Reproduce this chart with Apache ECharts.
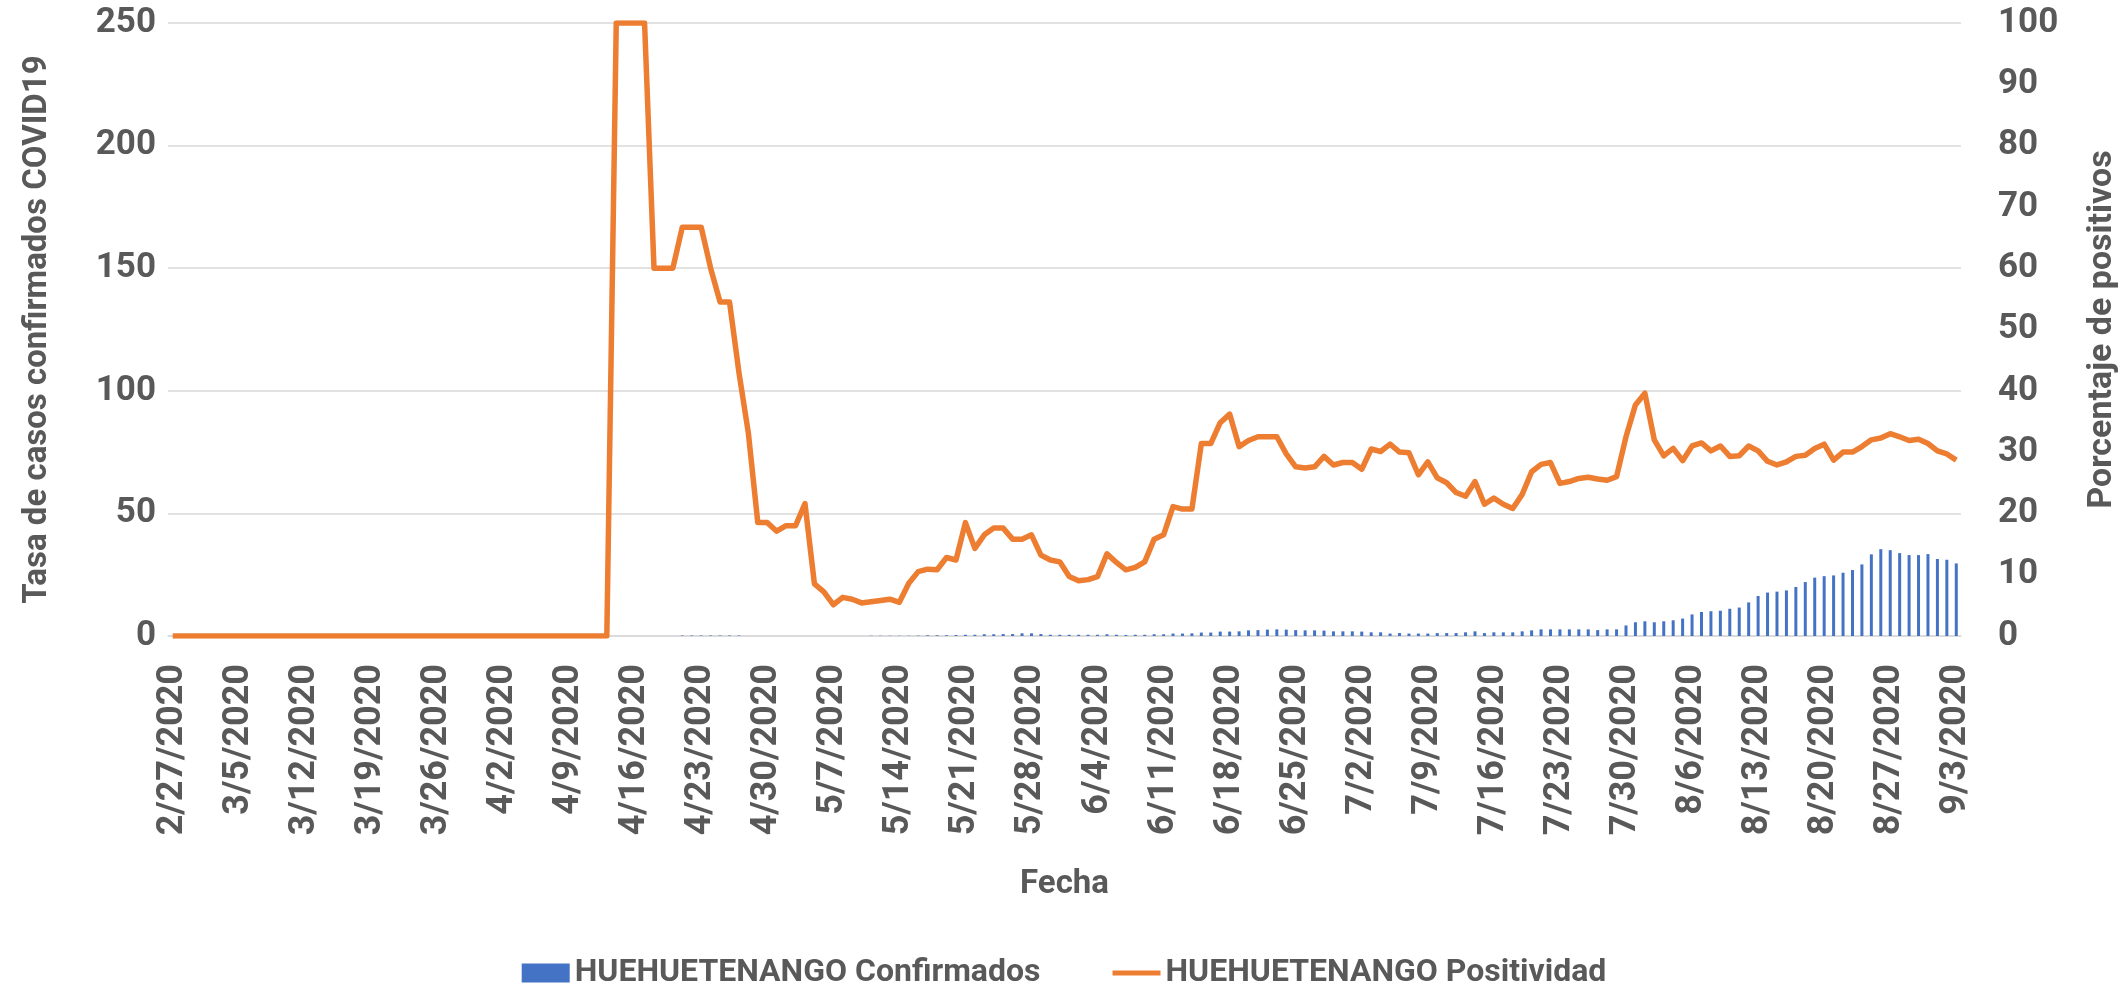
<!DOCTYPE html>
<html>
<head>
<meta charset="utf-8">
<script src="https://cdn.jsdelivr.net/npm/echarts@6/dist/echarts.min.js"></script>
<style>
  html, body { margin: 0; padding: 0; background: #fff; }
  #main { width: 2128px; height: 990px; }
</style>
</head>
<body>
<div id="main"></div>
<script>
// daily categories 2/27/2020 .. 9/3/2020
const startDay = new Date(2020, 1, 27);
const fechas = [];
for (let i = 0; i < 190; i++) {
  const d = new Date(startDay.getFullYear(), startDay.getMonth(), startDay.getDate() + i);
  fechas.push((d.getMonth() + 1) + '/' + d.getDate() + '/' + d.getFullYear());
}

// tasa de casos confirmados (left axis)
const confirmados = [
  0, 0, 0, 0, 0, 0, 0, 0, 0, 0, 0, 0, 0, 0, 0, 0, 0, 0, 0, 0,
  0, 0, 0, 0, 0, 0, 0, 0, 0, 0, 0, 0, 0, 0, 0, 0, 0, 0, 0, 0,
  0, 0, 0, 0, 0, 0, 0, 0, 0, 0, 0, 0, 0, 0,
  0.2, 0.2, 0.2, 0.2, 0.2, 0.2, 0.2,
  0, 0, 0, 0, 0, 0, 0, 0, 0, 0, 0, 0, 0,
  0.1, 0.1, 0.1, 0.1,
  0.1, 0.15, 0.3, 0.3, 0.3, 0.4, 0.5, 0.5, 0.7, 0.7, 0.8, 0.8,
  1.1, 1.1, 0.8, 0.5, 0.5, 0.5, 0.5, 0.5, 0.5, 0.7,
  0.5, 0.4, 0.5, 0.5, 0.7, 0.7, 1.0, 1.0, 1.1, 1.4,
  1.4, 1.8, 1.8, 1.9, 2.3, 2.4, 2.6, 2.7, 2.6, 2.4,
  2.3, 2.3, 2.2, 1.9, 1.9, 1.9, 1.8, 1.5, 1.5, 1.0,
  1.2, 1.0, 1.0, 1.0, 1.2, 1.2, 1.2, 1.5, 1.9, 1.2,
  1.5, 1.5, 1.5, 1.9, 2.3, 2.7, 2.7, 2.7, 2.7, 2.7,
  2.7, 2.4, 2.7, 2.7, 4.3, 5.6, 6.0, 5.6, 6.0, 6.4,
  7.1, 8.8, 9.8, 10.1, 10.3, 11.1, 11.6, 13.7, 16.3, 17.7,
  18.1, 18.6, 20.0, 22.0, 23.8, 24.4, 24.7, 25.8, 26.9, 29.2,
  33.3, 35.4, 35.0, 33.8, 33.0, 33.0, 33.4, 31.4, 31.1, 29.6
];

// porcentaje de positivos (right axis)
const positividad = [
  0, 0, 0, 0, 0, 0, 0, 0, 0, 0, 0, 0, 0, 0, 0, 0, 0, 0, 0, 0,
  0, 0, 0, 0, 0, 0, 0, 0, 0, 0, 0, 0, 0, 0, 0, 0, 0, 0, 0, 0,
  0, 0, 0, 0, 0, 0, 0,
  100, 100, 100, 100, 60, 60, 60, 66.7, 66.7, 66.7,
  60, 54.5, 54.5, 43, 33.1, 18.5, 18.5, 17.1, 18, 18,
  21.6, 8.5, 7.2, 5.1, 6.3, 6.0, 5.4, 5.6, 5.8, 6.0, 5.5,
  8.6, 10.5, 10.9, 10.8, 12.8, 12.4, 18.5, 14.3, 16.5, 17.6, 17.6, 15.8,
  15.8, 16.5, 13.2, 12.4, 12.1, 9.7, 9.0, 9.2, 9.7, 13.4,
  12.0, 10.8, 11.2, 12.1, 15.8, 16.5, 21.1, 20.7, 20.7, 31.4,
  31.4, 34.8, 36.2, 30.9, 31.9, 32.5, 32.5, 32.5, 29.7, 27.6,
  27.4, 27.6, 29.3, 27.9, 28.3, 28.3, 27.2, 30.5, 30.1, 31.3,
  30.0, 29.9, 26.3, 28.4, 25.8, 25.0, 23.4, 22.8, 25.2, 21.5,
  22.5, 21.5, 20.8, 23.1, 26.8, 28.0, 28.3, 24.9, 25.2, 25.7,
  25.9, 25.6, 25.4, 26.0, 32.5, 37.7, 39.6, 32.0, 29.4, 30.6,
  28.6, 31.0, 31.5, 30.2, 31.0, 29.3, 29.4, 31.0, 30.2, 28.5,
  27.9, 28.4, 29.3, 29.5, 30.6, 31.3, 28.7, 30.0, 30.0, 30.9,
  32.0, 32.3, 33.0, 32.5, 31.9, 32.1, 31.4, 30.2, 29.7, 28.7
];

const serieNames = ['HUEHUETENANGO Confirmados', 'HUEHUETENANGO Positividad'];

const txt = '#595959';
const fontFam = 'Roboto, "Liberation Sans", sans-serif';

const chart = echarts.init(document.getElementById('main'), null, { renderer: 'canvas' });

const option = {
  animation: false,
  backgroundColor: '#ffffff',
  textStyle: { fontFamily: fontFam, fontWeight: 'bold', color: txt },
  grid: { left: 168, right: 167, top: 23, bottom: 354, containLabel: false },
  legend: {
    data: [
      { name: serieNames[0], icon: 'rect' },
      { name: serieNames[1], icon: 'path://M0,0 L48,0 L48,5 L0,5 Z' }
    ],
    top: 952,
    left: 'center',
    itemWidth: 48,
    itemHeight: 19,
    itemGap: 72,
    textStyle: { fontFamily: fontFam, fontWeight: 'bold', fontSize: 32, color: txt }
  },
  xAxis: {
    type: 'category',
    data: fechas,
    name: 'Fecha',
    nameLocation: 'middle',
    nameGap: 232,
    nameTextStyle: { fontFamily: fontFam, fontWeight: 'bold', fontSize: 33, color: txt },
    axisLine: { lineStyle: { color: '#D9D9D9', width: 1.5 } },
    axisTick: { show: false },
    axisLabel: {
      interval: 6,
      rotate: 90,
      margin: 28,
      fontFamily: fontFam, fontWeight: 'bold', fontSize: 36, color: txt
    }
  },
  yAxis: [
    {
      type: 'value',
      min: 0, max: 250, interval: 50,
      name: 'Tasa de casos confirmados COVID19',
      nameLocation: 'middle',
      nameRotate: 90,
      nameGap: 114,
      nameTextStyle: { fontFamily: fontFam, fontWeight: 'bold', fontSize: 33, color: txt },
      axisLine: { show: false },
      axisTick: { show: false },
      axisLabel: { margin: 12, fontFamily: fontFam, fontWeight: 'bold', fontSize: 35, color: txt },
      splitLine: { lineStyle: { color: '#D9D9D9', width: 1.5 } }
    },
    {
      type: 'value',
      min: 0, max: 100, interval: 10,
      position: 'right',
      name: 'Porcentaje de positivos',
      nameLocation: 'middle',
      nameRotate: 90,
      nameGap: 124,
      nameTextStyle: { fontFamily: fontFam, fontWeight: 'bold', fontSize: 34, color: txt },
      axisLine: { show: false },
      axisTick: { show: false },
      axisLabel: { margin: 37, fontFamily: fontFam, fontWeight: 'bold', fontSize: 35, color: txt },
      splitLine: { show: false }
    }
  ],
  series: [
    {
      name: serieNames[0],
      type: 'bar',
      yAxisIndex: 0,
      data: confirmados,
      barWidth: 3,
      itemStyle: { color: '#4472C4' }
    },
    {
      name: serieNames[1],
      type: 'line',
      yAxisIndex: 1,
      data: positividad,
      symbol: 'none',
      z: 3,
      lineStyle: { color: '#ED7D31', width: 5.5, join: 'round' },
      itemStyle: { color: '#ED7D31' }
    }
  ]
};

chart.setOption(option);
</script>
</body>
</html>
